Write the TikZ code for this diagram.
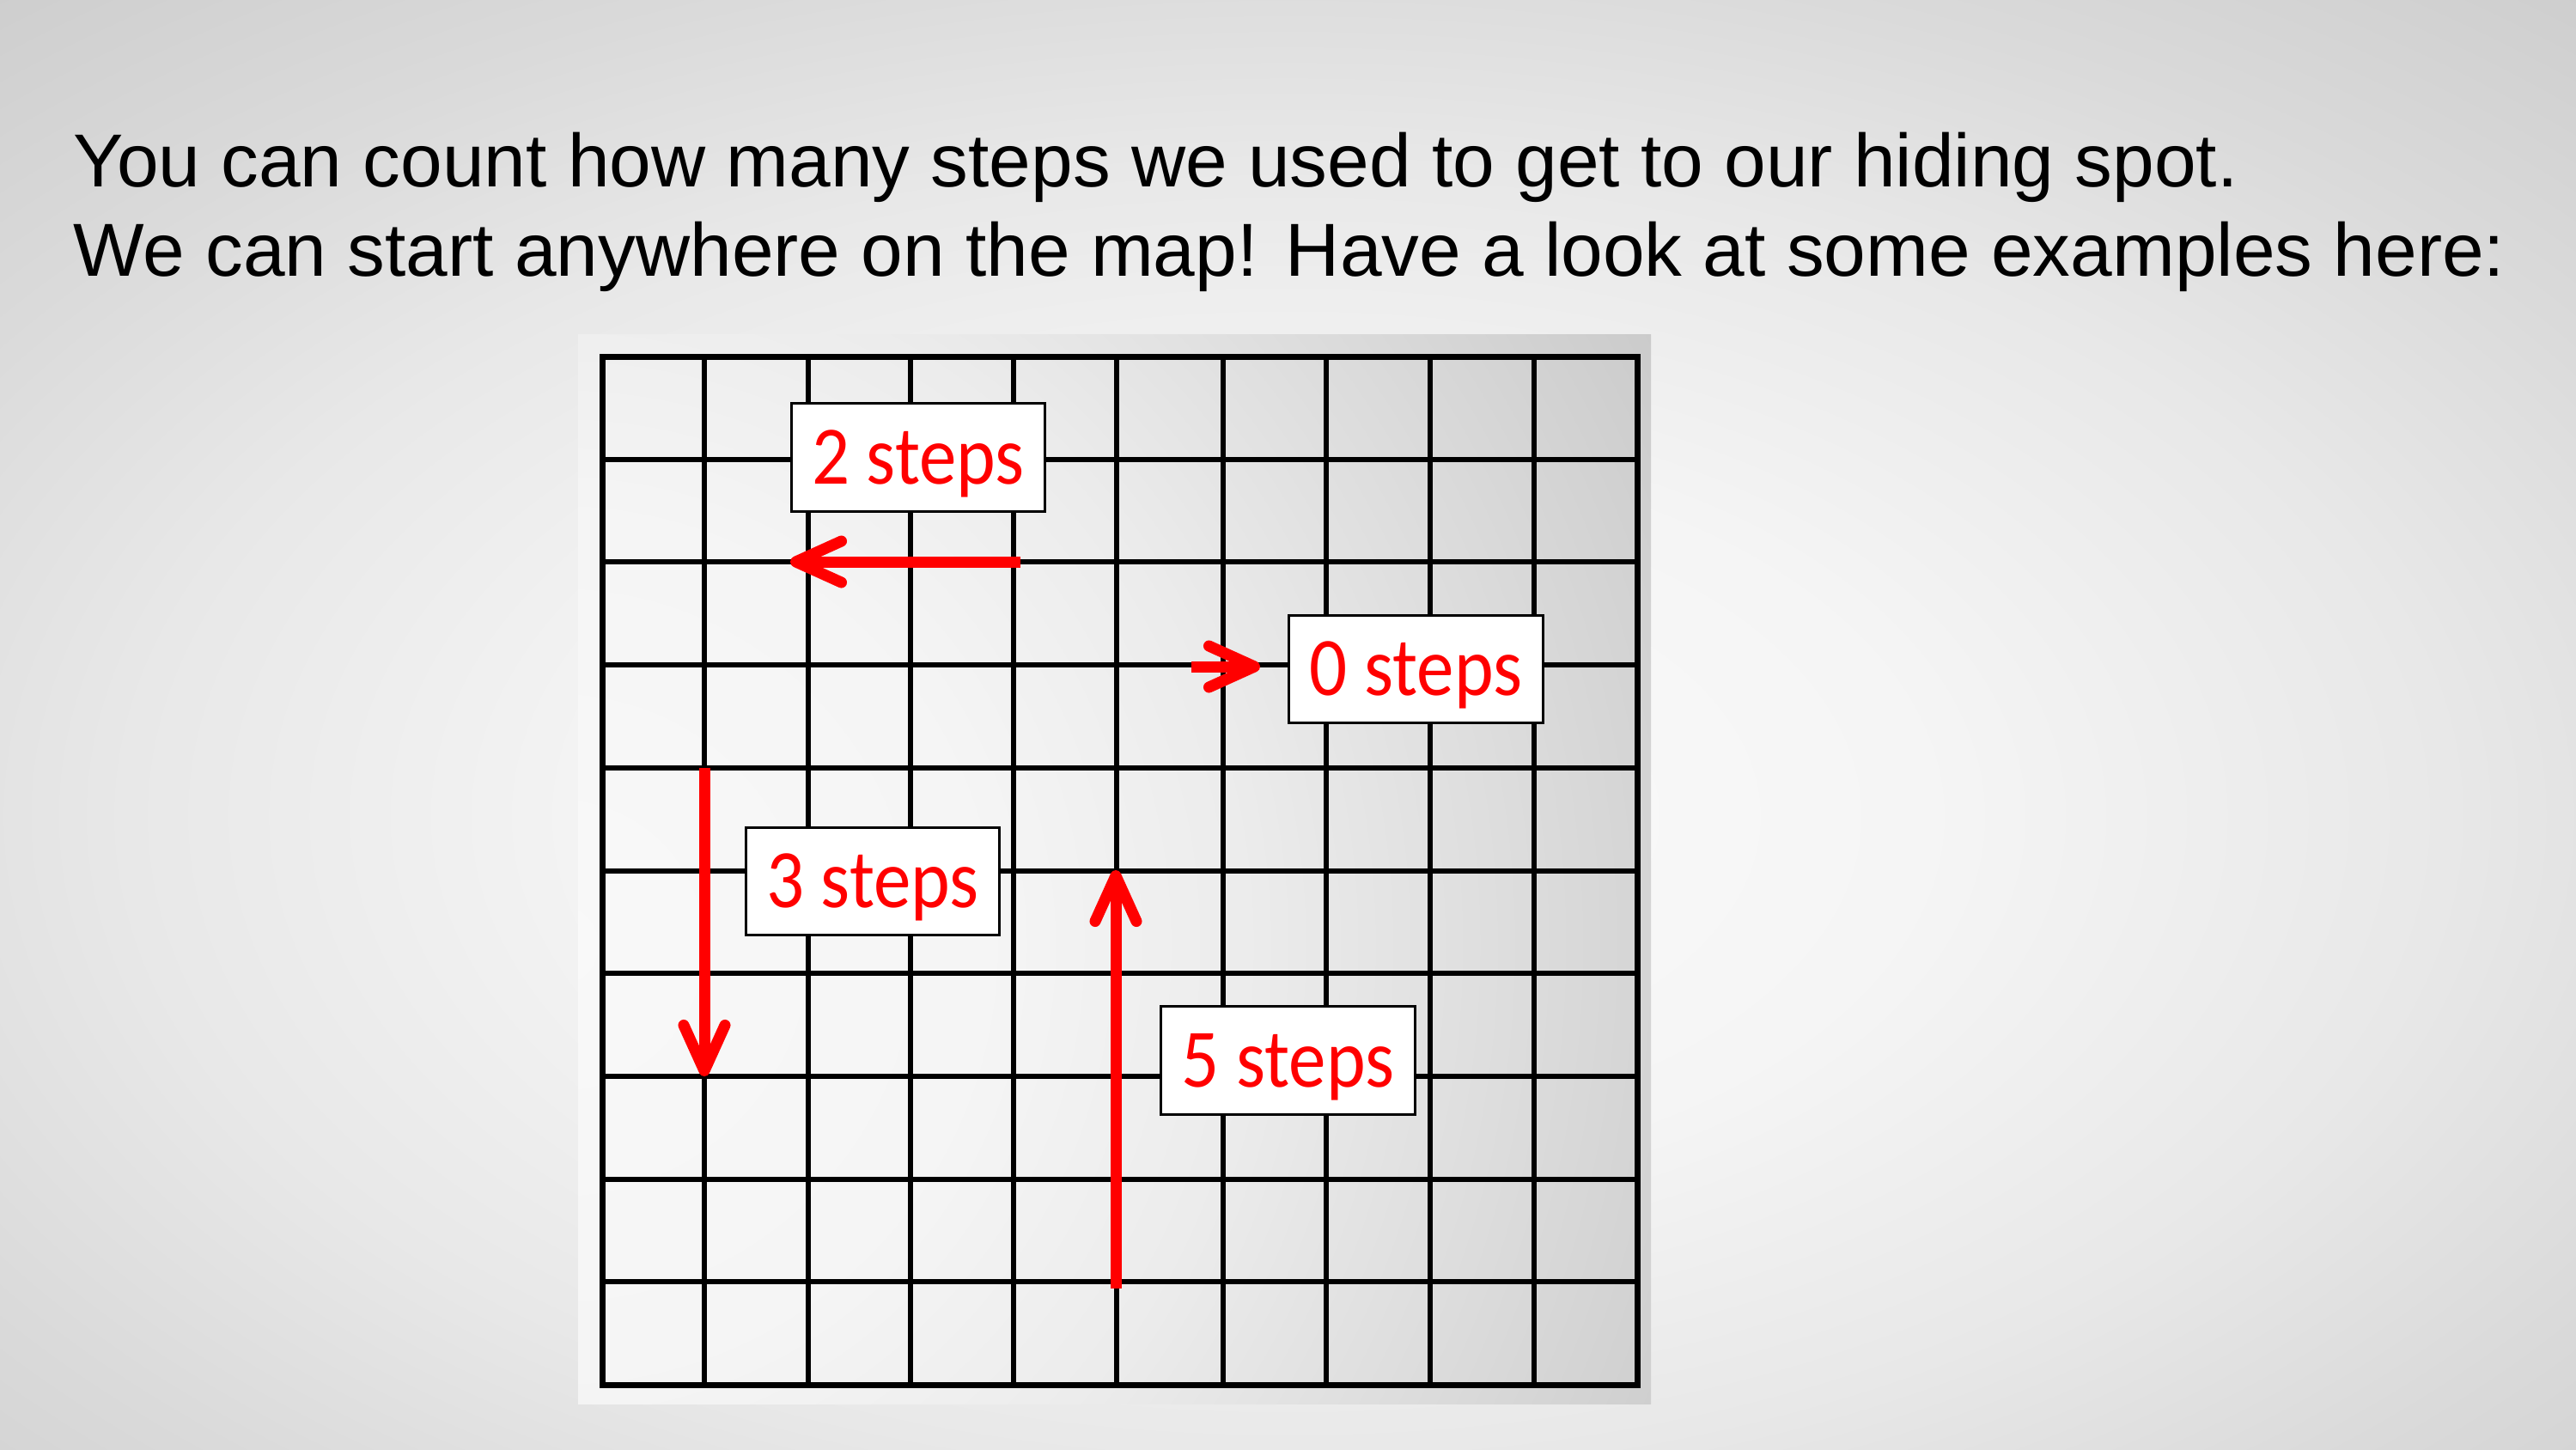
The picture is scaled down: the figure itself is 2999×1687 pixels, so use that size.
\documentclass[tikz,border=0pt]{standalone}
\usepackage{fontspec}
\setmainfont{Liberation Sans}
\newfontfamily\lblfont[FakeStretch=0.9]{Carlito}
\usetikzlibrary{arrows.meta}
\definecolor{bgA}{gray}{0.985}
\definecolor{bgB}{gray}{0.96}
\definecolor{bgC}{gray}{0.91}
\definecolor{bgD}{gray}{0.855}
\definecolor{bgE}{gray}{0.795}
\definecolor{pA}{gray}{0.976}
\definecolor{pB}{gray}{0.96}
\definecolor{pC}{gray}{0.925}
\definecolor{pD}{gray}{0.867}
\definecolor{pE}{gray}{0.788}
\pgfdeclareradialshading{bgshade}{\pgfpoint{0bp}{0bp}}{color(0bp)=(bgA); color(7.8bp)=(bgB); color(14.05bp)=(bgC); color(18.75bp)=(bgD); color(25bp)=(bgE); color(50bp)=(bgE)}
\pgfdeclareradialshading{panelshade}{\pgfpoint{0bp}{0bp}}{color(0bp)=(pA); color(8.35bp)=(pB); color(13.35bp)=(pC); color(18.35bp)=(pD); color(25bp)=(pE); color(50bp)=(pE)}
\begin{document}
\begin{tikzpicture}[x=0.01cm,y=-0.01cm,
  gridline/.style={line width=0.055cm, black},
  gridborder/.style={line width=0.07cm, black, line join=miter},
  stepslabel/.style={draw=black, line width=0.03cm, fill=white, inner sep=0pt,
    minimum width=2.95cm, minimum height=1.25cm, text height=0.61cm, text depth=0pt,
    text=red, font=\lblfont\fontsize{27.5pt}{30pt}\selectfont},
  redarrow/.style={draw=red, line width=0.13cm, -{Straight Barb[length=0.53cm,width=0.48cm,round]}},
  titletext/.style={anchor=base west, inner sep=0pt, font=\fontsize{24.87pt}{29.6pt}\selectfont}]

\useasboundingbox (0,0) rectangle (2999,1687);
\begin{scope}
  \clip (0,0) rectangle (2999,1687);
  \shade[shading=bgshade] (1500,950) ellipse [x radius=24cm, y radius=13.49cm];
\end{scope}

% picture panel
\begin{scope}
  \clip (673,389) rectangle (1922,1634);
  \shade[shading=panelshade] (650,1100) circle [radius=15cm];
\end{scope}

% grid
\foreach \gx in {820,941,1060,1180,1300,1424,1544,1665,1786}
  \draw[gridline] (\gx,415) -- (\gx,1612);
\foreach \gy in {535,654,774,894,1014,1133,1253,1373,1492}
  \draw[gridline] (701,\gy) -- (1906,\gy);
\draw[gridborder] (701,415) rectangle (1906,1612);

% arrows
\coordinate (a2s) at (1188,654);
\coordinate (a2e) at (920,654);
\coordinate (a0s) at (1387,776);
\coordinate (a0e) at (1467,776);
\coordinate (a3s) at (820,894);
\coordinate (a3e) at (820,1253);
\coordinate (a5s) at (1299,1500);
\coordinate (a5e) at (1299,1013);
\draw[redarrow] (a2s) -- (a2e);
\draw[redarrow] (a0s) -- (a0e);
\draw[redarrow] (a3s) -- (a3e);
\draw[redarrow] (a5s) -- (a5e);

% labels
\node[stepslabel] (l2) at (1069,532.5) {2 steps};
\node[stepslabel] (l0) at (1648.5,779) {0 steps};
\node[stepslabel] (l3) at (1016,1026) {3 steps};
\node[stepslabel] (l5) at (1499.5,1234.5) {5 steps};

% title
\node[titletext] (t1) at (85,217) {You can count how many steps we used to get to our hiding spot.};
\node[titletext] (t2) at (85,321) {We can start anywhere on the map! Have a look at some examples here:};
\end{tikzpicture}
\end{document}
